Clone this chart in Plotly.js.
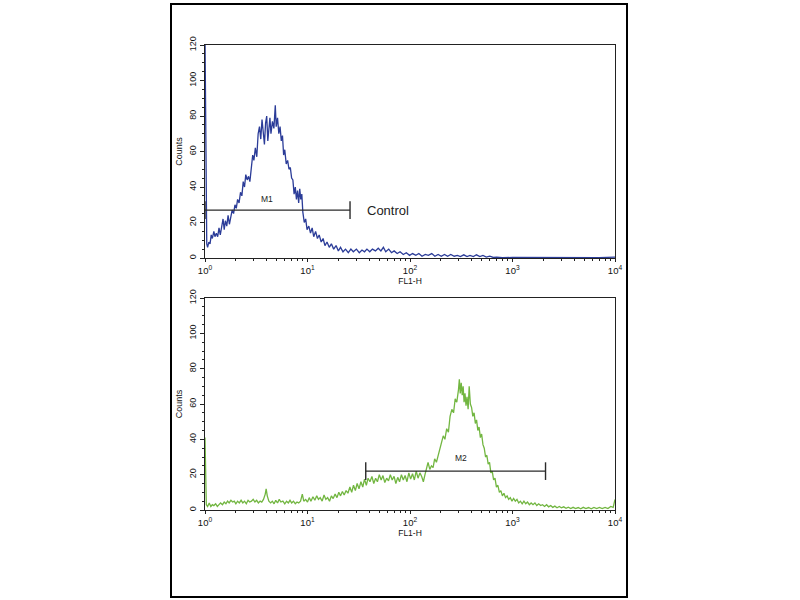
<!DOCTYPE html>
<html>
<head>
<meta charset="utf-8">
<script src="https://cdn.plot.ly/plotly-3.0.1.min.js"></script>
<style>html,body{margin:0;padding:0;background:#fff;}#chart{width:800px;height:600px;}</style>
</head>
<body>
<div id="chart"></div>
<script>
// ---- Control histogram (blue, top panel) ----
var ctrlX = [1.0,1.02,1.04,1.06,1.09,1.12,1.15,1.18,1.22,1.25,
  1.29,1.33,1.37,1.41,1.45,1.5,1.54,1.58,1.63,1.68,
  1.73,1.78,1.84,1.9,1.96,2.02,2.08,2.15,2.22,2.29,
  2.36,2.43,2.5,2.58,2.66,2.74,2.83,2.92,3.0,3.1,
  3.2,3.3,3.4,3.5,3.6,3.7,3.8,3.9,4.0,4.1,
  4.2,4.3,4.4,4.55,4.7,4.85,4.95,5.1,5.25,5.4,
  5.55,5.7,5.85,6.0,6.2,6.4,6.6,6.8,7.0,7.2,
  7.4,7.6,7.8,8.0,8.2,8.4,8.6,8.8,9.0,9.3,
  9.6,9.9,10.3,10.7,11.1,11.5,12.0,12.5,13.0,13.6,
  14.2,14.8,15.5,16.3,17.1,18.0,19.0,20.0,21.0,22.2,
  23.5,25.0,26.5,28,30,32,34,36,38,40.5,
  43,46,49,52,55,58,62,66,70,75,
  80,86,92,99,106,114,122,131,141,151,
  163,175,188,202,217,233,250,270,290,310,
  335,360,385,415,445,480,515,555,600,650,
  700,800,1000,1500,2000,3000,5000,7000,10000];
var ctrlY = [125,64,8,6,9,8,13,11,15,12,
  14,12,17,13,18,22,16,21,18,24,
  19,23,27,25,30,28,33,31,37,35,
  43,40,47,44,46,43,52,58,55,62,
  57,70,74,67,78,70,64,76,80,66,
  72,79,70,77,73,86,74,79,70,74,
  66,69,58,61,53,55,50,51,45,44,
  36,40,33,38,31,39,33,36,26,20,
  22,16,18,14,17,12,15,11,13,9,
  11,7,9,6,8,5,7,4,6,3.5,
  5,3,5,3.5,5,3,4.5,3.5,5,3.5,
  5,4,5.5,4,6,3.5,5,3,4,2.5,
  3.5,2,3,1.5,2.5,1.5,2.5,1,2,1.5,
  2.5,1,2,1,2,1,2,1,1.5,0.8,
  1.8,0.8,1.5,0.8,1.8,0.8,1.5,0.5,1,0.3,
  0.5,0.2,0.3,0.2,0.3,0.2,0.3,0.2,0.5];

// ---- Sample histogram (green, bottom panel) ----
var smplX = [1.0,1.015,1.03,1.06,1.1,1.14,1.18,1.22,1.27,1.32,
  1.37,1.42,1.48,1.54,1.6,1.66,1.72,1.79,1.86,1.93,
  2.0,2.08,2.16,2.25,2.34,2.43,2.53,2.63,2.73,2.84,
  2.95,3.07,3.19,3.32,3.45,3.58,3.72,3.87,3.95,4.05,
  4.2,4.37,4.54,4.72,4.9,5.1,5.3,5.5,5.75,6.0,
  6.25,6.5,6.75,7.0,7.3,7.6,7.9,8.2,8.55,8.9,
  9.2,9.6,10,10.4,10.8,11.3,11.8,12.3,12.8,13.3,
  13.9,14.5,15.1,15.7,16.4,17.1,17.8,18.6,19.4,20.2,
  21,21.9,22.8,23.8,24.8,25.9,27,28.1,29.3,30.5,
  31.8,33.2,34.6,36,37.5,39,40.7,42.5,44.3,46.2,
  48.1,50.2,52.3,54.5,56.8,59.2,61.7,64.3,67,69.9,
  72.8,75.9,79.1,82.5,86,89.6,93.4,97.4,101.5,105.8,
  110.3,115,119.8,124.9,130,135,140,145,150,156,
  162,168,174,181,188,195,203,211,219,228,
  237,246,256,266,276,286,297,303,309,316,
  323,330,337,344,352,360,369,378,388,399,
  410,422,434,446,459,472,486,500,515,530,
  546,562,579,597,615,634,654,675,697,720,
  745,770,797,825,855,886,918,952,988,1025,
  1065,1106,1150,1195,1243,1293,1346,1401,1460,1520,
  1585,1655,1725,1800,1880,1965,2055,2150,2250,2360,
  2470,2590,2720,2860,3000,3160,3330,3500,3700,3900,
  4130,4370,4630,4900,5200,5520,5860,6230,6620,7050,
  7500,8000,8530,9100,9600,10000];
var smplY = [41,20,3,2,4,2,3,2.5,3.5,2,
  3,4,3,4.5,3.5,5,4,5.5,4.5,5,
  3.5,5,4,5.5,4,5,3.5,5.5,4.5,5,
  6,4.5,5.5,4,5,4.5,6,9,12,8,
  5,4,5,3.5,5.5,4,6,4.5,5,3.5,
  5,4,5.5,4,5,3.5,4.5,4,5,9,
  5,6,4.5,7,5,7.5,5.5,8,6,7,
  5,8.5,6,7,5,8,6.5,9,7,10,
  8,10.5,8.5,11,9.5,13,10,14,11,15,
  12,16,13,17.5,14,18,16,19,15,18,
  16,20,17,19.5,15.5,18,16.5,20,17,19,
  15,18.5,16,20,17,19.5,16,21,17.5,20.5,
  17,22,18,21,19,16,20,24,27,23,
  25,24,29,27,31,35,38,42,40,46,
  44,53,57,55,63,61,68,74,66,72,
  65,70,61,66,59,64,57,70,60,58,
  53,55,49,51,45,47,41,43,37,35,
  30,31,26,27,21,22,17,18,13,14,
  10,11,8,9.5,7,8,6,7,5,6.5,
  5,6,4,5,3.5,5,3.5,4.5,3,4,
  3,4,2.5,3.5,2.5,3,2,3,1.8,2.5,
  1.5,2.2,1.3,2,1.2,1.8,1,1.6,0.8,1.5,
  0.8,1.4,0.7,1.5,0.8,1.4,0.7,1.5,0.8,1.5,
  0.8,1.5,0.8,2,1.5,6];

// ---- Gate markers ----
var m1Range = [1, 26];   var m1Level = 27;
var m2Range = [37, 2100]; var m2Level = 22;
var gateTick = 5;
var m1Label = "M1"; var m2Label = "M2"; var ctrlLabel = "Control";
var m1LabelPos = [4.0, 33]; var m2LabelPos = [315, 29.5]; var ctrlLabelPos = [36, 27];

// ---- Axis ticks ----
var decadeVals = [1, 10, 100, 1000, 10000];
var decadeText = ["10<sup>0</sup>","10<sup>1</sup>","10<sup>2</sup>","10<sup>3</sup>","10<sup>4</sup>"];
var minorVals = [];
for (var d = 0; d < 4; d++) for (var m = 2; m <= 9; m++) minorVals.push(m * Math.pow(10, d));

var FONT = "Liberation Sans, Arial, sans-serif";
var markerColor = "#2a2a2a";

function gateTraces(range, level, xa, ya) {
  var t = [];
  t.push({x: range, y: [level, level], xaxis: xa, yaxis: ya, mode: "lines", line: {color: markerColor, width: 1.4}, hoverinfo: "skip"});
  t.push({x: [range[0], range[0]], y: [level - gateTick, level + gateTick], xaxis: xa, yaxis: ya, mode: "lines", line: {color: markerColor, width: 1.4}, hoverinfo: "skip"});
  t.push({x: [range[1], range[1]], y: [level - gateTick, level + gateTick], xaxis: xa, yaxis: ya, mode: "lines", line: {color: markerColor, width: 1.4}, hoverinfo: "skip"});
  return t;
}

var traces = [
  {x: ctrlX, y: ctrlY, xaxis: "x", yaxis: "y", mode: "lines", line: {color: "#2b3c98", width: 1.3}},
  {x: smplX, y: smplY, xaxis: "x2", yaxis: "y2", mode: "lines", line: {color: "#72b641", width: 1.3}}
].concat(gateTraces(m1Range, m1Level, "x", "y")).concat(gateTraces(m2Range, m2Level, "x2", "y2"));

function xAxis(domain, anchor) {
  return {
    type: "log", range: [0, 4], domain: domain, anchor: anchor,
    tickvals: decadeVals, ticktext: decadeText,
    ticks: "outside", ticklen: 3, tickwidth: 1, tickcolor: "#222",
    minor: {tickvals: minorVals, ticks: "outside", ticklen: 2, tickcolor: "#222"},
    showline: true, mirror: true, linecolor: "#222", linewidth: 1.3,
    showgrid: false, zeroline: false,
    tickfont: {family: FONT, size: 9.5, color: "#111"},
    title: {text: "FL1-H", font: {family: FONT, size: 8.5, color: "#111"}, standoff: 0}
  };
}
function yAxis(domain, anchor) {
  return {
    range: [0, 120], domain: domain, anchor: anchor,
    tickvals: [0,20,40,60,80,100,120], tickangle: -90,
    ticks: "outside", ticklen: 4, tickwidth: 1, tickcolor: "#222",
    minor: {dtick: 5, ticks: "outside", ticklen: 2, tickcolor: "#222"},
    showline: true, mirror: true, linecolor: "#222", linewidth: 1.3,
    showgrid: false, zeroline: false,
    tickfont: {family: FONT, size: 9, color: "#111"},
    title: {text: "Counts", font: {family: FONT, size: 9, color: "#111"}, standoff: 4}
  };
}

var layout = {
  width: 800, height: 600,
  margin: {l: 0, r: 0, t: 0, b: 0},
  paper_bgcolor: "#fff", plot_bgcolor: "#fff",
  showlegend: false,
  xaxis: xAxis([205/800, 615/800], "y"),
  yaxis: yAxis([1 - 258/600, 1 - 45/600], "x"),
  xaxis2: xAxis([205/800, 615/800], "y2"),
  yaxis2: yAxis([1 - 510/600, 1 - 298/600], "x2"),
  shapes: [{type: "rect", xref: "paper", yref: "paper", x0: 171/800, x1: 627/800, y0: 1 - 597/600, y1: 1 - 4/600, line: {color: "#000", width: 2}}],
  annotations: [
    {xref: "x", yref: "y", x: Math.log10(m1LabelPos[0]), y: m1LabelPos[1], text: m1Label, showarrow: false, font: {family: FONT, size: 8.5, color: "#222"}},
    {xref: "x", yref: "y", x: Math.log10(ctrlLabelPos[0]), y: ctrlLabelPos[1], text: ctrlLabel, showarrow: false, xanchor: "left", font: {family: FONT, size: 13, color: "#222"}},
    {xref: "x2", yref: "y2", x: Math.log10(m2LabelPos[0]), y: m2LabelPos[1], text: m2Label, showarrow: false, font: {family: FONT, size: 8.5, color: "#222"}}
  ]
};

Plotly.newPlot("chart", traces, layout, {displayModeBar: false, staticPlot: true});
</script>
</body>
</html>
